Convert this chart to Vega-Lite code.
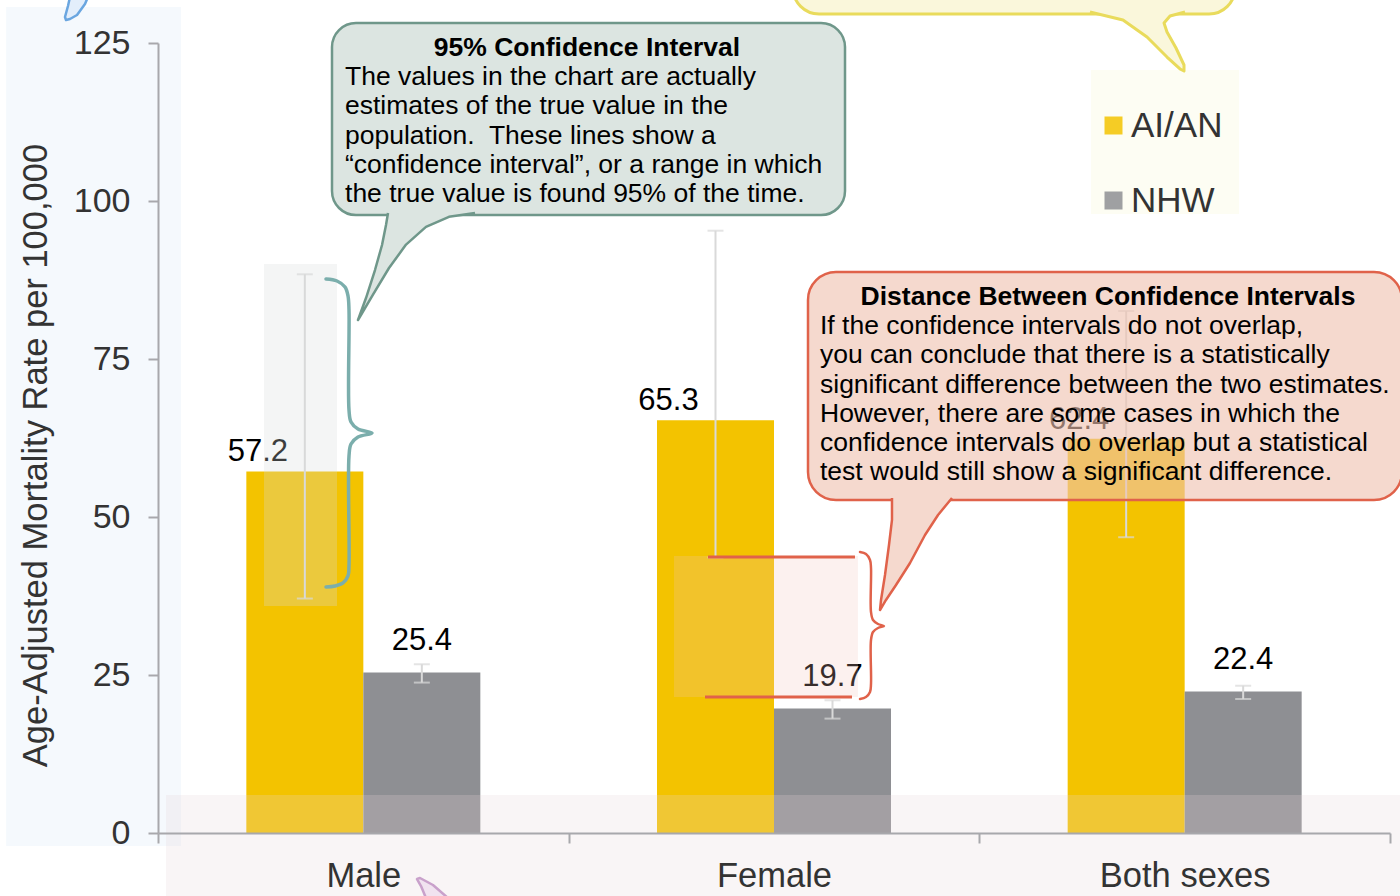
{
  "$schema": "https://vega.github.io/schema/vega-lite/v6.json",
  "width": 1232,
  "height": 790,
  "autosize": {"type": "none"},
  "padding": {"left": 158, "top": 43, "right": 10, "bottom": 63},
  "background": "white",
  "config": {"view": {"stroke": null}, "font": "Liberation Sans", "text": {"font": "Liberation Sans"}},
  "datasets": {
    "bars": [
      {"sex": "Male", "group": "AI/AN", "value": 57.2, "lo": 37.1, "hi": 88.4},
      {"sex": "Male", "group": "NHW", "value": 25.4, "lo": 23.8, "hi": 26.7},
      {"sex": "Female", "group": "AI/AN", "value": 65.3, "lo": 43.6, "hi": 95.3},
      {"sex": "Female", "group": "NHW", "value": 19.7, "lo": 18.1, "hi": 21.0},
      {"sex": "Both sexes", "group": "AI/AN", "value": 62.4, "lo": 46.8, "hi": 82.6},
      {"sex": "Both sexes", "group": "NHW", "value": 22.4, "lo": 21.2, "hi": 23.3}
    ],
    "anno": [
      {"id": "leftPanel", "u": -0.3701, "u2": 0.056, "v": 130.7, "v2": -2.06},
      {"id": "maleBox", "u": 0.2581, "u2": 0.4359, "v": 90.03, "v2": 35.92},
      {"id": "femaleBox", "u": 1.2565, "u2": 1.7045, "v": 43.83, "v2": 21.52},
      {"id": "bottomBand", "u": 0.0195, "u2": 3.0244, "v": 6.01, "v2": -9.97},
      {"id": "legendBg", "u": 2.2719, "u2": 2.6323, "v": 120.73, "v2": 97.94},
      {"id": "yellowBody", "u": 1.5463, "u2": 2.6226, "v": 138.13, "v2": 129.59},
      {"id": "greenBody", "u": 0.4237, "u2": 1.6729, "v": 128.16, "v2": 97.78},
      {"id": "redBody", "u": 1.5828, "u2": 3.0292, "v": 88.77, "v2": 52.69},
      {"id": "redLine", "u": 1.3393, "u2": 1.6972, "v": 43.67},
      {"id": "redLine", "u": 1.332, "u2": 1.6899, "v": 21.52},

      {"id": "greenTail", "i": 0, "u": 0.5601, "v": 98.1},
      {"id": "greenTail", "i": 1, "u": 0.5552, "v": 96.2},
      {"id": "greenTail", "i": 2, "u": 0.5455, "v": 93.04},
      {"id": "greenTail", "i": 3, "u": 0.5284, "v": 89.08},
      {"id": "greenTail", "i": 4, "u": 0.5065, "v": 84.65},
      {"id": "greenTail", "i": 5, "u": 0.487, "v": 81.17},
      {"id": "greenTail", "i": 6, "u": 0.5235, "v": 85.2},
      {"id": "greenTail", "i": 7, "u": 0.5625, "v": 89.4},
      {"id": "greenTail", "i": 8, "u": 0.604, "v": 93.1},
      {"id": "greenTail", "i": 9, "u": 0.6525, "v": 95.9},
      {"id": "greenTail", "i": 10, "u": 0.7085, "v": 97.5},
      {"id": "greenTail", "i": 11, "u": 0.7719, "v": 98.1},

      {"id": "yellowTail", "i": 0, "u": 2.2695, "v": 129.91},
      {"id": "yellowTail", "i": 1, "u": 2.3498, "v": 128.64},
      {"id": "yellowTail", "i": 2, "u": 2.4083, "v": 125.95},
      {"id": "yellowTail", "i": 3, "u": 2.457, "v": 122.78},
      {"id": "yellowTail", "i": 4, "u": 2.4886, "v": 120.89},
      {"id": "yellowTail", "i": 5, "u": 2.4984, "v": 120.57},
      {"id": "yellowTail", "i": 6, "u": 2.4984, "v": 121.52},
      {"id": "yellowTail", "i": 7, "u": 2.4789, "v": 124.21},
      {"id": "yellowTail", "i": 8, "u": 2.457, "v": 126.74},
      {"id": "yellowTail", "i": 9, "u": 2.4497, "v": 128.16},
      {"id": "yellowTail", "i": 10, "u": 2.4643, "v": 129.27},
      {"id": "yellowTail", "i": 11, "u": 2.5008, "v": 129.91},

      {"id": "redTail", "i": 0, "u": 1.7873, "v": 53.01},
      {"id": "redTail", "i": 1, "u": 1.7873, "v": 49.53},
      {"id": "redTail", "i": 2, "u": 1.78, "v": 45.57},
      {"id": "redTail", "i": 3, "u": 1.7703, "v": 40.82},
      {"id": "redTail", "i": 4, "u": 1.7606, "v": 36.87},
      {"id": "redTail", "i": 5, "u": 1.7581, "v": 35.28},
      {"id": "redTail", "i": 6, "u": 1.7727, "v": 36.87},
      {"id": "redTail", "i": 7, "u": 1.7971, "v": 39.24},
      {"id": "redTail", "i": 8, "u": 1.8312, "v": 42.72},
      {"id": "redTail", "i": 9, "u": 1.8677, "v": 47.15},
      {"id": "redTail", "i": 10, "u": 1.8994, "v": 50.32},
      {"id": "redTail", "i": 11, "u": 1.9334, "v": 53.01},

      {"id": "blueBrace", "i": 0, "u": 0.4091, "v": 87.66},
      {"id": "blueBrace", "i": 1, "u": 0.4359, "v": 87.34},
      {"id": "blueBrace", "i": 2, "u": 0.4554, "v": 86.39},
      {"id": "blueBrace", "i": 3, "u": 0.4627, "v": 84.97},
      {"id": "blueBrace", "i": 4, "u": 0.4651, "v": 82.75},
      {"id": "blueBrace", "i": 5, "u": 0.4651, "v": 66.93},
      {"id": "blueBrace", "i": 6, "u": 0.47, "v": 65.03},
      {"id": "blueBrace", "i": 7, "u": 0.487, "v": 63.92},
      {"id": "blueBrace", "i": 8, "u": 0.5211, "v": 63.29},
      {"id": "blueBrace", "i": 9, "u": 0.487, "v": 62.66},
      {"id": "blueBrace", "i": 10, "u": 0.47, "v": 61.55},
      {"id": "blueBrace", "i": 11, "u": 0.4651, "v": 59.65},
      {"id": "blueBrace", "i": 12, "u": 0.4651, "v": 42.41},
      {"id": "blueBrace", "i": 13, "u": 0.4627, "v": 40.67},
      {"id": "blueBrace", "i": 14, "u": 0.4505, "v": 39.56},
      {"id": "blueBrace", "i": 15, "u": 0.431, "v": 39.08},
      {"id": "blueBrace", "i": 16, "u": 0.4091, "v": 38.92},

      {"id": "redBrace", "i": 0, "u": 1.7094, "v": 44.46},
      {"id": "redBrace", "i": 1, "u": 1.724, "v": 44.15},
      {"id": "redBrace", "i": 2, "u": 1.7338, "v": 43.2},
      {"id": "redBrace", "i": 3, "u": 1.7362, "v": 41.93},
      {"id": "redBrace", "i": 4, "u": 1.7362, "v": 34.97},
      {"id": "redBrace", "i": 5, "u": 1.7411, "v": 33.7},
      {"id": "redBrace", "i": 6, "u": 1.7532, "v": 33.07},
      {"id": "redBrace", "i": 7, "u": 1.7679, "v": 32.75},
      {"id": "redBrace", "i": 8, "u": 1.7532, "v": 32.44},
      {"id": "redBrace", "i": 9, "u": 1.7411, "v": 31.8},
      {"id": "redBrace", "i": 10, "u": 1.7362, "v": 30.54},
      {"id": "redBrace", "i": 11, "u": 1.7362, "v": 23.58},
      {"id": "redBrace", "i": 12, "u": 1.7338, "v": 22.31},
      {"id": "redBrace", "i": 13, "u": 1.724, "v": 21.52},
      {"id": "redBrace", "i": 14, "u": 1.7094, "v": 21.2},

      {"id": "pinkTail", "i": 0, "u": 0.6526, "v": -10.29},
      {"id": "pinkTail", "i": 1, "u": 0.6404, "v": -8.39},
      {"id": "pinkTail", "i": 2, "u": 0.6307, "v": -7.28},
      {"id": "pinkTail", "i": 3, "u": 0.638, "v": -7.12},
      {"id": "pinkTail", "i": 4, "u": 0.6696, "v": -8.23},
      {"id": "pinkTail", "i": 5, "u": 0.7062, "v": -10.29},

      {"id": "blueTail", "i": 0, "u": -0.2143, "v": 132.28},
      {"id": "blueTail", "i": 1, "u": -0.2192, "v": 130.85},
      {"id": "blueTail", "i": 2, "u": -0.2265, "v": 129.11},
      {"id": "blueTail", "i": 3, "u": -0.224, "v": 128.64},
      {"id": "blueTail", "i": 4, "u": -0.2143, "v": 128.8},
      {"id": "blueTail", "i": 5, "u": -0.1972, "v": 129.43},
      {"id": "blueTail", "i": 6, "u": -0.1778, "v": 131.17},
      {"id": "blueTail", "i": 7, "u": -0.1705, "v": 132.28},

      {"id": "greenTitle", "u": 1.0446, "v": 122.94, "text": "95% Confidence Interval"},
      {"id": "greenText", "u": 0.4554, "v": 118.35, "text": ["The values in the chart are actually", "estimates of the true value in the", "population.\u00a0 These lines show a", "“confidence interval”, or a range in which", "the true value is found 95% of the time."]},
      {"id": "redTitle", "u": 2.3133, "v": 83.54, "text": "Distance Between Confidence Intervals"},
      {"id": "redText", "u": 1.612, "v": 78.96, "text": ["If the confidence intervals do not overlap,", "you can conclude that there is a statistically", "significant difference between the two estimates.", "However, there are some cases in which the", "confidence intervals do overlap but a statistical", "test would still show a significant difference."]}
    ]
  },
  "resolve": {"scale": {"x": "independent"}},
  "layer": [
    {
      "data": {"name": "bars"},
      "encoding": {
        "x": {
          "field": "sex", "type": "nominal", "sort": ["Male", "Female", "Both sexes"],
          "scale": {"paddingInner": 0, "paddingOuter": 0},
          "axis": {"title": null, "labelAngle": 0, "labelFontSize": 34.5, "labelFont": "Liberation Sans", "labelColor": "#333333", "labelPadding": 16, "tickSize": 10, "tickWidth": 2, "tickColor": "#A8A8AC", "tickBand": "extent", "domainColor": "#A8A8AC", "domainWidth": 2, "zindex": 1}
        },
        "xOffset": {"field": "group", "type": "nominal", "sort": ["AI/AN", "NHW"], "scale": {"paddingInner": 0, "paddingOuter": 0.755}}
      },
      "layer": [
        {
          "mark": {"type": "bar"},
          "encoding": {
            "y": {
              "field": "value", "type": "quantitative", "scale": {"domain": [0, 125], "nice": false},
              "axis": {"title": "Age-Adjusted Mortality Rate per 100,000", "titleFontSize": 34.5, "titleFont": "Liberation Sans", "titleFontWeight": "normal", "titleColor": "#333333", "titlePadding": 20, "titleY": 412, "values": [0, 25, 50, 75, 100, 125], "labelFontSize": 34, "labelFont": "Liberation Sans", "labelColor": "#333333", "labelPadding": 18, "tickSize": 10, "tickWidth": 2, "tickColor": "#A8A8AC", "domainColor": "#A8A8AC", "domainWidth": 2, "grid": false, "zindex": 1}
            },
            "color": {
              "field": "group", "type": "nominal",
              "scale": {"domain": ["AI/AN", "NHW"], "range": ["#F3C300", "#8E8F93"]},
              "legend": {"title": null, "orient": "none", "legendX": 938, "legendY": 65, "symbolType": "square", "symbolSize": 324, "symbolStrokeWidth": 0, "symbolOpacity": 0.85, "labelFontSize": 35, "labelFont": "Liberation Sans", "labelColor": "#333333", "labelOffset": 0, "rowPadding": 39, "padding": 0}
            }
          }
        },
        {
          "mark": {"type": "rule", "color": "#D9D9D9", "strokeWidth": 2},
          "encoding": {"y": {"field": "lo", "type": "quantitative"}, "y2": {"field": "hi"}}
        },
        {
          "mark": {"type": "tick", "color": "#D9D9D9", "thickness": 2, "size": 16, "orient": "horizontal"},
          "encoding": {"y": {"field": "lo", "type": "quantitative"}}
        },
        {
          "mark": {"type": "tick", "color": "#D9D9D9", "thickness": 2, "size": 16, "orient": "horizontal"},
          "encoding": {"y": {"field": "hi", "type": "quantitative"}}
        },
        {
          "transform": [{"filter": "datum.group === 'AI/AN'"}],
          "mark": {"type": "text", "fontSize": 31, "font": "Liberation Sans", "color": "#000000", "baseline": "alphabetic", "dx": -47, "dy": -10},
          "encoding": {"y": {"field": "value", "type": "quantitative"}, "text": {"field": "value", "type": "quantitative", "format": ".1f"}}
        },
        {
          "transform": [{"filter": "datum.group === 'NHW'"}],
          "mark": {"type": "text", "fontSize": 31, "font": "Liberation Sans", "color": "#000000", "baseline": "alphabetic", "dy": -22},
          "encoding": {"y": {"field": "value", "type": "quantitative"}, "text": {"field": "value", "type": "quantitative", "format": ".1f"}}
        }
      ]
    },
    {
      "data": {"name": "anno"},
      "encoding": {
        "x": {"field": "u", "type": "quantitative", "scale": {"domain": [0, 3], "nice": false, "zero": false}, "axis": null},
        "y": {"field": "v", "type": "quantitative", "scale": {"domain": [0, 125], "nice": false}}
      },
      "layer": [
        {"transform": [{"filter": "datum.id === 'leftPanel'"}], "mark": {"type": "rect", "fill": "#E3EEFA", "fillOpacity": 0.35}, "encoding": {"x2": {"field": "u2"}, "y2": {"field": "v2"}}},
        {"transform": [{"filter": "datum.id === 'maleBox'"}], "mark": {"type": "rect", "fill": "#D6DCDC", "fillOpacity": 0.28}, "encoding": {"x2": {"field": "u2"}, "y2": {"field": "v2"}}},
        {"transform": [{"filter": "datum.id === 'femaleBox'"}], "mark": {"type": "rect", "fill": "#F2C2B9", "fillOpacity": 0.23}, "encoding": {"x2": {"field": "u2"}, "y2": {"field": "v2"}}},
        {"transform": [{"filter": "datum.id === 'bottomBand'"}], "mark": {"type": "rect", "fill": "#E6D5DA", "fillOpacity": 0.24}, "encoding": {"x2": {"field": "u2"}, "y2": {"field": "v2"}}},
        {"transform": [{"filter": "datum.id === 'legendBg'"}], "mark": {"type": "rect", "fill": "#FDFDF3"}, "encoding": {"x2": {"field": "u2"}, "y2": {"field": "v2"}}},
        {"transform": [{"filter": "datum.id === 'redLine'"}], "mark": {"type": "rule", "stroke": "#E0624A", "strokeWidth": 3}, "encoding": {"x2": {"field": "u2"}}},
        {"transform": [{"filter": "datum.id === 'blueBrace'"}], "mark": {"type": "line", "stroke": "#7BAEAC", "strokeWidth": 3.5, "interpolate": "catmull-rom", "strokeCap": "round"}, "encoding": {"order": {"field": "i", "type": "quantitative"}}},
        {"transform": [{"filter": "datum.id === 'redBrace'"}], "mark": {"type": "line", "stroke": "#E0624A", "strokeWidth": 2.5, "interpolate": "catmull-rom", "strokeCap": "round"}, "encoding": {"order": {"field": "i", "type": "quantitative"}}},
        {"transform": [{"filter": "datum.id === 'yellowBody'"}], "mark": {"type": "rect", "fill": "#FAF7DB", "stroke": "#E9DB5C", "strokeWidth": 3, "cornerRadius": 26}, "encoding": {"x2": {"field": "u2"}, "y2": {"field": "v2"}}},
        {"transform": [{"filter": "datum.id === 'yellowTail'"}], "mark": {"type": "line", "fill": "#FAF7DB", "stroke": "#E9DB5C", "strokeWidth": 3, "strokeJoin": "round"}, "encoding": {"order": {"field": "i", "type": "quantitative"}}},
        {"transform": [{"filter": "datum.id === 'greenBody'"}], "mark": {"type": "rect", "fill": "#DCE5E1", "stroke": "#6F978A", "strokeWidth": 2.5, "cornerRadius": 24}, "encoding": {"x2": {"field": "u2"}, "y2": {"field": "v2"}}},
        {"transform": [{"filter": "datum.id === 'greenTail'"}], "mark": {"type": "line", "fill": "#DCE5E1", "stroke": "#6F978A", "strokeWidth": 2.5, "strokeJoin": "round", "interpolate": "linear"}, "encoding": {"order": {"field": "i", "type": "quantitative"}}},
        {"transform": [{"filter": "datum.id === 'redBody'"}], "mark": {"type": "rect", "fill": "#EFC1AF", "fillOpacity": 0.61, "stroke": "#E0624A", "strokeWidth": 2.5, "cornerRadius": 28}, "encoding": {"x2": {"field": "u2"}, "y2": {"field": "v2"}}},
        {"transform": [{"filter": "datum.id === 'redTail'"}], "mark": {"type": "line", "fill": "#F5D9CE", "stroke": "#E0624A", "strokeWidth": 2.5, "strokeJoin": "round"}, "encoding": {"order": {"field": "i", "type": "quantitative"}}},
        {"transform": [{"filter": "datum.id === 'pinkTail'"}], "mark": {"type": "line", "fill": "#F1E3F0", "stroke": "#C9A1CB", "strokeWidth": 2.5, "strokeJoin": "round"}, "encoding": {"order": {"field": "i", "type": "quantitative"}}},
        {"transform": [{"filter": "datum.id === 'blueTail'"}], "mark": {"type": "line", "fill": "#E3EEFB", "stroke": "#6AA6E0", "strokeWidth": 2.5, "strokeJoin": "round"}, "encoding": {"order": {"field": "i", "type": "quantitative"}}},
        {"transform": [{"filter": "datum.id === 'greenTitle' || datum.id === 'redTitle'"}], "mark": {"type": "text", "align": "center", "baseline": "alphabetic", "fontSize": 26.5, "fontWeight": "bold", "font": "Liberation Sans", "color": "#000000"}, "encoding": {"text": {"field": "text", "type": "nominal"}}},
        {"transform": [{"filter": "datum.id === 'greenText' || datum.id === 'redText'"}], "mark": {"type": "text", "align": "left", "baseline": "alphabetic", "fontSize": 26.5, "lineHeight": 29.3, "font": "Liberation Sans", "color": "#000000"}, "encoding": {"text": {"field": "text", "type": "nominal"}}}
      ]
    }
  ]
}
